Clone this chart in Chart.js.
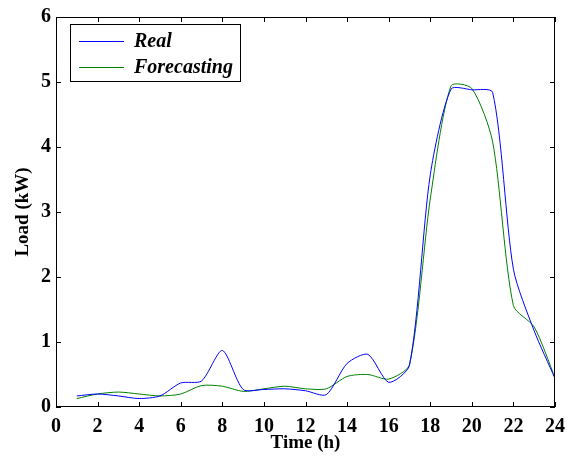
<!DOCTYPE html>
<html>
<head>
<meta charset="utf-8">
<script src="https://cdn.jsdelivr.net/npm/chart.js@4"></script>
<style>
  html, body { margin: 0; padding: 0; background: #fff; }
  #wrap { width: 576px; height: 457px; }
</style>
</head>
<body>
<div id="wrap"><canvas id="loadChart"></canvas></div>
<script>
// ── Data ──
const hours = [1, 2, 3, 4, 5, 6, 7, 8, 9, 10, 11, 12, 13, 14, 15, 16, 17, 18, 19, 20, 21, 22, 23, 24];
const realLoad = [0.17, 0.2, 0.17, 0.13, 0.17, 0.37, 0.4, 0.87, 0.27, 0.27, 0.28, 0.25, 0.19, 0.67, 0.81, 0.38, 0.64, 3.57, 4.89, 4.88, 4.84, 2.12, 1.17, 0.44];
const forecastLoad = [0.13, 0.2, 0.23, 0.2, 0.17, 0.2, 0.33, 0.32, 0.24, 0.28, 0.32, 0.28, 0.28, 0.47, 0.5, 0.43, 0.65, 3.2, 4.94, 4.9, 4.08, 1.56, 1.23, 0.45];
const xTicks = [0, 2, 4, 6, 8, 10, 12, 14, 16, 18, 20, 22, 24];
const yTicks = [0, 1, 2, 3, 4, 5, 6];

const serif = "'Liberation Serif', 'DejaVu Serif', serif";

// frame, inward ticks, axis titles and legend box (matplotlib look)
const framePlugin = {
    id: 'frame',
    afterDraw(chart) {
        const { ctx, chartArea: a, scales } = chart;
        const x = scales.x, y = scales.y;
        ctx.save();
        ctx.strokeStyle = '#000';
        ctx.lineWidth = 1;
        ctx.strokeRect(a.left + 0.5, a.top + 0.5, a.right - a.left - 1, a.bottom - a.top - 1);
        ctx.beginPath();
        xTicks.forEach(v => {
            const px = Math.round(x.getPixelForValue(v)) + 0.5;
            ctx.moveTo(px, a.bottom); ctx.lineTo(px, a.bottom - 5);
            ctx.moveTo(px, a.top); ctx.lineTo(px, a.top + 5);
        });
        yTicks.forEach(v => {
            const py = Math.round(y.getPixelForValue(v)) + 0.5;
            ctx.moveTo(a.left, py); ctx.lineTo(a.left + 5, py);
            ctx.moveTo(a.right, py); ctx.lineTo(a.right - 5, py);
        });
        ctx.stroke();

        // axis titles
        ctx.fillStyle = '#000';
        ctx.font = 'bold 19px ' + serif;
        ctx.textAlign = 'center';
        ctx.textBaseline = 'middle';
        ctx.fillText('Time (h)', (a.left + a.right) / 2, 443);
        ctx.translate(23, (a.top + a.bottom) / 2);
        ctx.rotate(-Math.PI / 2);
        ctx.fillText('Load (kW)', 0, 0);
        ctx.restore();

        // legend
        ctx.save();
        ctx.fillStyle = '#fff';
        ctx.fillRect(70, 24, 170, 57);
        ctx.strokeStyle = '#000';
        ctx.lineWidth = 1;
        ctx.strokeRect(70.5, 24.5, 170, 57);
        chart.data.datasets.forEach((ds, i) => {
            const ly = 41 + i * 26;
            ctx.strokeStyle = ds.borderColor;
            ctx.beginPath();
            ctx.moveTo(79, ly + 0.5); ctx.lineTo(124, ly + 0.5);
            ctx.stroke();
            ctx.fillStyle = '#000';
            ctx.font = 'italic bold 20px ' + serif;
            ctx.textAlign = 'left';
            ctx.textBaseline = 'middle';
            ctx.fillText(ds.label, 134, ly + 1);
        });
        ctx.restore();
    }
};

new Chart(document.getElementById('loadChart'), {
    type: 'line',
    data: {
        datasets: [{
            label: 'Real',
            data: hours.map((h, i) => ({ x: h, y: realLoad[i] })),
            borderColor: '#0000ff',
            borderWidth: 1,
            pointRadius: 0,
            tension: 0.25,
            fill: false
        }, {
            label: 'Forecasting',
            data: hours.map((h, i) => ({ x: h, y: forecastLoad[i] })),
            borderColor: '#008000',
            borderWidth: 1,
            pointRadius: 0,
            tension: 0.25,
            fill: false
        }]
    },
    options: {
        responsive: true,
        maintainAspectRatio: false,
        animation: false,
        layout: { padding: { top: 14, right: 21, left: 0, bottom: 0 } },
        plugins: {
            legend: { display: false },
            tooltip: { enabled: false }
        },
        scales: {
            x: {
                type: 'linear',
                min: 0, max: 24,
                afterFit: s => { s.height = 50; },
                afterBuildTicks: s => { s.ticks = xTicks.map(v => ({ value: v })); },
                grid: { display: false, drawTicks: false },
                border: { display: false },
                ticks: {
                    color: '#000',
                    padding: 8,
                    maxRotation: 0,
                    font: { family: serif, size: 20, weight: 'bold' }
                }
            },
            y: {
                min: 0, max: 6,
                afterFit: s => { s.width = 56; },
                afterBuildTicks: s => { s.ticks = yTicks.map(v => ({ value: v })); },
                grid: { display: false, drawTicks: false },
                border: { display: false },
                ticks: {
                    color: '#000',
                    padding: 5,
                    font: { family: serif, size: 20, weight: 'bold' }
                }
            }
        }
    },
    plugins: [framePlugin]
});
</script>
</body>
</html>
